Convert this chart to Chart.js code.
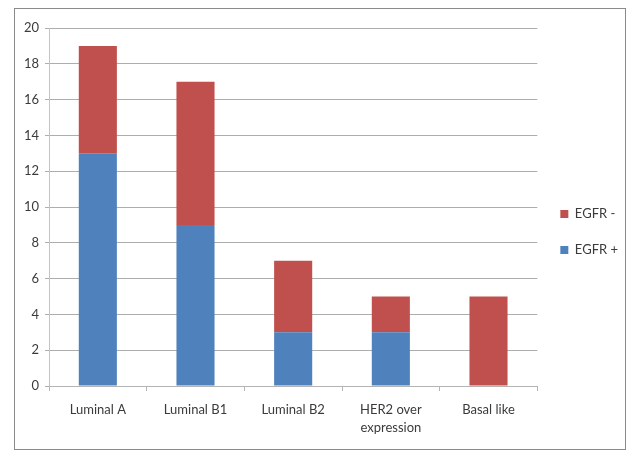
<!DOCTYPE html>
<html>
<head>
<meta charset="utf-8">
<script src="https://cdn.jsdelivr.net/npm/chart.js@4/dist/chart.umd.min.js"></script>
<style>
  html, body { margin: 0; padding: 0; background: #ffffff; }
  #wrap { width: 628px; height: 452px; position: relative; }
</style>
</head>
<body>
<div id="wrap"><canvas id="c" width="628" height="452"></canvas></div>
<script>
// Breast cancer subtypes and EGFR status counts
const categories = ['Luminal A', 'Luminal B1', 'Luminal B2', ['HER2 over', 'expression'], 'Basal like'];
const egfrPositive = [13, 9, 3, 3, 0];
const egfrNegative = [6, 8, 4, 2, 5];
const yTicks = { min: 0, max: 20, step: 2 };

const textColor = '#3b3b3b';
const font = { family: 'Lato, "Open Sans", sans-serif', size: 13 };
const xFont = { family: 'Lato, "Open Sans", sans-serif', size: 13, lineHeight: 1.4 };

// Grey frame around the whole figure
const framePlugin = {
  id: 'frame',
  beforeDraw(chart) {
    const ctx = chart.ctx;
    ctx.save();
    ctx.fillStyle = '#ffffff';
    ctx.fillRect(0, 0, chart.width, chart.height);
    ctx.strokeStyle = '#8a8a8a';
    ctx.lineWidth = 1;
    ctx.strokeRect(14.5, 8.5, 611, 441);
    ctx.restore();
  }
};

new Chart(document.getElementById('c'), {
  type: 'bar',
  data: {
    labels: categories,
    datasets: [
      { label: 'EGFR +', data: egfrPositive, backgroundColor: '#4f81bd', borderWidth: 0 },
      { label: 'EGFR -', data: egfrNegative, backgroundColor: '#c0504d', borderWidth: 0 }
    ]
  },
  options: {
    responsive: false,
    animation: false,
    devicePixelRatio: 1,
    layout: { padding: { top: 28, bottom: 16, left: 14, right: 0 } },
    datasets: { bar: { barPercentage: 0.39, categoryPercentage: 1.0 } },
    plugins: {
      legend: {
        position: 'right',
        reverse: true,
        labels: { boxWidth: 8, boxHeight: 8, padding: 23, color: textColor, font: font }
      },
      tooltip: { enabled: false }
    },
    scales: {
      x: {
        stacked: true,
        grid: { drawOnChartArea: false, drawTicks: true, tickLength: 5, color: '#b4b4b4', offset: true },
        border: { color: '#b4b4b4' },
        ticks: { color: textColor, font: xFont, padding: 10, maxRotation: 0, autoSkip: false },
        afterFit(scale) { scale.height = 50; }
      },
      y: {
        stacked: true,
        min: yTicks.min,
        max: yTicks.max,
        grid: { color: '#adadad', tickLength: 4 },
        border: { color: '#c4c4c4' },
        ticks: { stepSize: yTicks.step, color: textColor, font: font, padding: 6 },
        afterFit(scale) { scale.width = 35; }
      }
    }
  },
  plugins: [framePlugin]
});
</script>
</body>
</html>
